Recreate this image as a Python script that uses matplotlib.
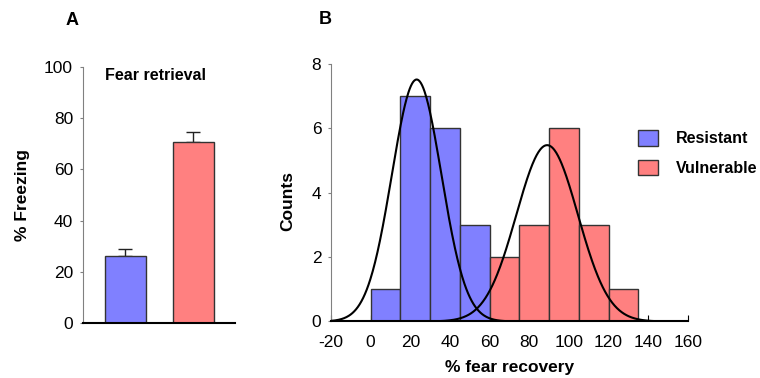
import numpy as np
import matplotlib
matplotlib.use("Agg")
import matplotlib.pyplot as plt
from matplotlib.patches import Patch

plt.rcParams['font.family'] = ['Liberation Sans', 'DejaVu Sans']
plt.rcParams['axes.unicode_minus'] = False

# Panel A: fear retrieval
groups = ['Resistant', 'Vulnerable']
freezing = [26.2, 70.6]
freezing_sem = [2.6, 4.0]

# Panel B: histogram of % fear recovery (bin width 15)
resistant_edges = [0, 15, 30, 45]
resistant_counts = [1, 7, 6, 3]
vulnerable_edges = [60, 75, 90, 105, 120]
vulnerable_counts = [2, 3, 6, 3, 1]
bin_width = 15

# fitted normal curves (mean, sd, peak height)
resistant_fit = (23.2, 12.5, 7.52)
vulnerable_fit = (89.0, 15.5, 5.48)

blue = '#8080ff'
red = '#ff8080'
edge = '#333333'

fig = plt.figure(figsize=(7.6, 3.78), dpi=100)

# ---- Panel A ----
axA = fig.add_axes([0.109, 0.1455, 0.2, 0.677])
xpos = np.arange(len(groups))
axA.bar(xpos, freezing, width=0.6, color=[blue, red], edgecolor=edge, linewidth=1, zorder=2)
axA.errorbar(xpos, freezing, yerr=[[0, 0], freezing_sem], fmt='none',
             ecolor='#222222', elinewidth=1, capsize=5, capthick=1, zorder=1)
axA.set_xlim(-0.625, 1.61)
axA.set_ylim(0, 100)
axA.set_yticks(range(0, 101, 20))
axA.set_xticks([])
axA.spines['top'].set_visible(False)
axA.spines['right'].set_visible(False)
axA.spines['left'].set_color('#808080')
axA.spines['bottom'].set_linewidth(1.5)
axA.tick_params(axis='y', direction='out', length=2.5, color='#808080', labelsize=12.5, pad=4.5)
axA.set_ylabel('% Freezing', fontsize=12.5, fontweight='bold', va='center')
axA.yaxis.set_label_coords(-0.395, 0.5)
axA.text(0.145, 0.969, 'Fear retrieval', transform=axA.transAxes, fontsize=11.5,
         fontweight='bold', va='center', ha='left')

# ---- Panel B ----
axB = fig.add_axes([0.4355, 0.1495, 0.4697, 0.681])
axB.bar(resistant_edges, resistant_counts, width=bin_width, align='edge',
        color=blue, edgecolor=edge, linewidth=1, zorder=2)
axB.bar(vulnerable_edges, vulnerable_counts, width=bin_width, align='edge',
        color=red, edgecolor=edge, linewidth=1, zorder=2)
xs = np.linspace(-20, 160, 600)
for mu, sd, peak in (resistant_fit, vulnerable_fit):
    axB.plot(xs, peak * np.exp(-(xs - mu) ** 2 / (2 * sd ** 2)), color='black', lw=1.5, zorder=3)
axB.set_xlim(-20, 160)
axB.set_ylim(0, 8)
axB.set_xticks(range(-20, 161, 20))
axB.set_yticks(range(0, 9, 2))
axB.spines['top'].set_visible(False)
axB.spines['right'].set_visible(False)
axB.spines['left'].set_color('#808080')
axB.spines['bottom'].set_linewidth(1.5)
axB.spines['bottom'].set_zorder(4)
axB.tick_params(axis='y', direction='out', length=2.5, color='#808080', labelsize=12.5, pad=4.5)
axB.tick_params(axis='x', direction='in', length=4, color='black', labelsize=12.5, pad=10)
axB.set_ylabel('Counts', fontsize=12.5, fontweight='bold', va='center')
axB.yaxis.set_label_coords(-0.122, 0.47)
axB.set_xlabel('% fear recovery', fontsize=12.5, fontweight='bold', va='center')
axB.xaxis.set_label_coords(0.5, -0.178)

handles = [Patch(facecolor=blue, edgecolor=edge), Patch(facecolor=red, edgecolor=edge)]
fig.legend(handles, groups, loc='upper left', bbox_to_anchor=(0.8395, 0.656), frameon=False,
           prop={'weight': 'bold', 'size': 11.5}, handlelength=1.24, handleheight=1.12,
           handletextpad=1.12, labelspacing=0.85, borderpad=0, borderaxespad=0)

fig.text(72.5 / 760, 1 - 20.5 / 378, 'A', fontsize=13, fontweight='bold', ha='center', va='center')
fig.text(325 / 760, 1 - 19.5 / 378, 'B', fontsize=13, fontweight='bold', ha='center', va='center')

fig.savefig('out.png', dpi=100)
